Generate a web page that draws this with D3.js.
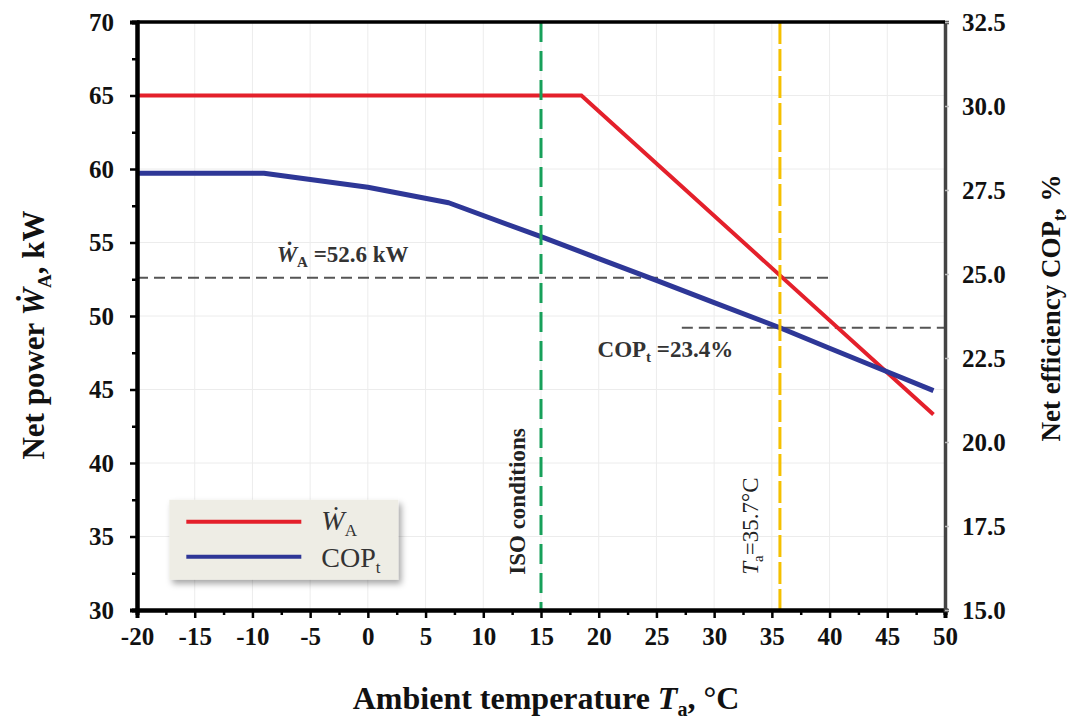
<!DOCTYPE html>
<html>
<head>
<meta charset="utf-8">
<script src="https://cdn.jsdelivr.net/npm/d3@7"></script>
<style>
    body { margin: 0; background: #fff; }
    text { font-family: "Liberation Serif", "Times New Roman", "DejaVu Serif", serif; }
</style>
</head>
<body>
<div id="chart"></div>
<script>
// data
const powerTemp = [-20, 18.5, 49]
const powerValues = [65, 65, 43.3]
const copTemp = [-20, -9, 0, 7, 15, 20, 25, 30, 35.7, 40, 45, 49]
const copValues = [28.0, 28.0, 27.58, 27.12, 26.11, 25.46, 24.81, 24.15, 23.4, 22.79, 22.09, 21.53]

const xTickValues = [-20, -15, -10, -5, 0, 5, 10, 15, 20, 25, 30, 35, 40, 45, 50]
const xMinorValues = [-17.5, -12.5, -7.5, -2.5, 2.5, 7.5, 12.5, 17.5, 22.5, 27.5, 32.5, 37.5, 42.5, 47.5]
const leftTickValues = [30, 35, 40, 45, 50, 55, 60, 65, 70]
const leftMinorValues = [32.5, 37.5, 42.5, 47.5, 52.5, 57.5, 62.5, 67.5]
const rightTickValues = [15, 17.5, 20, 22.5, 25, 27.5, 30, 32.5]

const isoTemp = 15
const designTemp = 35.7
const designPower = 52.6
const designCop = 23.4
const powerRefEnd = 40
const copRefStart = 27.2

const margin = { top: 22, right: 132, bottom: 110, left: 137 },
    width = 1077 - margin.left - margin.right,
    height = 720 - margin.top - margin.bottom;

const root = d3.select("#chart")
    .append("svg")
    .attr("width", 1077)
    .attr("height", 720)

const defs = root.append("defs")
const shadow = defs.append("filter").attr("id", "shadow")
    .attr("x", "-10%").attr("y", "-10%").attr("width", "130%").attr("height", "140%")
shadow.append("feDropShadow")
    .attr("dx", 3).attr("dy", 4).attr("stdDeviation", 3)
    .attr("flood-color", "#000").attr("flood-opacity", 0.35)

const svg = root.append("g")
    .attr("transform", `translate(${margin.left},${margin.top})`);

let x = d3.scaleLinear().domain([-20, 50]).range([0, width])
let yLeft = d3.scaleLinear().domain([30, 70]).range([height, 0])
let yRight = d3.scaleLinear().domain([15, 32.5]).range([height, 0])

// faint grid
svg.append("g")
    .selectAll("line")
    .data(xTickValues)
    .enter().append("line")
    .attr("x1", d => x(d)).attr("x2", d => x(d))
    .attr("y1", 0).attr("y2", height)
    .attr("stroke", "#ececec").attr("stroke-width", 1)
svg.append("g")
    .selectAll("line")
    .data(leftTickValues)
    .enter().append("line")
    .attr("x1", 0).attr("x2", width)
    .attr("y1", d => yLeft(d)).attr("y2", d => yLeft(d))
    .attr("stroke", "#ececec").attr("stroke-width", 1)

// reference dashed lines
svg.append("line")
    .attr("x1", x(-20)).attr("x2", x(powerRefEnd))
    .attr("y1", yLeft(designPower)).attr("y2", yLeft(designPower))
    .attr("stroke", "#555").attr("stroke-width", 2)
    .attr("stroke-dasharray", "11,6")
svg.append("line")
    .attr("x1", x(copRefStart)).attr("x2", x(50))
    .attr("y1", yRight(designCop)).attr("y2", yRight(designCop))
    .attr("stroke", "#555").attr("stroke-width", 2)
    .attr("stroke-dasharray", "11,6")

// data lines
svg.append("path")
    .datum(powerTemp.map((t, i) => [t, powerValues[i]]))
    .attr("fill", "none")
    .attr("stroke", "#e4202b")
    .attr("stroke-width", 4)
    .attr("d", d3.line()
        .x(d => x(d[0]))
        .y(d => yLeft(d[1]))
    )

svg.append("path")
    .datum(copTemp.map((t, i) => [t, copValues[i]]))
    .attr("fill", "none")
    .attr("stroke", "#2e3797")
    .attr("stroke-width", 5)
    .attr("stroke-linejoin", "round")
    .attr("d", d3.line()
        .x(d => x(d[0]))
        .y(d => yRight(d[1]))
    )

// vertical marker lines
svg.append("line")
    .attr("x1", x(isoTemp)).attr("x2", x(isoTemp))
    .attr("y1", 0).attr("y2", height)
    .attr("stroke", "#17a05a").attr("stroke-width", 3)
    .attr("stroke-dasharray", "20,9")
svg.append("line")
    .attr("x1", x(designTemp)).attr("x2", x(designTemp))
    .attr("y1", 0).attr("y2", height)
    .attr("stroke", "#f5c000").attr("stroke-width", 3)
    .attr("stroke-dasharray", "22,5")

// axes
function styleAxis(g, color, lineWidth) {
    g.select(".domain").attr("stroke", color).attr("stroke-width", lineWidth)
    g.selectAll(".tick line").attr("stroke", color).attr("stroke-width", 2.5)
    g.selectAll("text")
        .attr("font-size", "25px")
        .attr("font-weight", "bold")
        .attr("font-family", "Liberation Serif, Times New Roman, serif")
        .attr("fill", "#111")
}

let xMinor = svg.append("g")
    .attr("transform", "translate(0," + height + ")")
    .call(d3.axisBottom(x).tickValues(xMinorValues).tickSize(5).tickFormat(""))
styleAxis(xMinor, "#000", 4)

let xAxis = svg.append("g")
    .attr("transform", "translate(0," + height + ")")
    .call(d3.axisBottom(x).tickValues(xTickValues).tickSize(8).tickPadding(9).tickFormat(d3.format("d")))
styleAxis(xAxis, "#000", 4)
xAxis.selectAll("text").text(d => d < 0 ? "-" + Math.abs(d) : d)

let yMinor = svg.append("g")
    .call(d3.axisLeft(yLeft).tickValues(leftMinorValues).tickSize(5).tickFormat(""))
styleAxis(yMinor, "#000", 4)

let yAxis = svg.append("g")
    .call(d3.axisLeft(yLeft).tickValues(leftTickValues).tickSize(7).tickPadding(16))
styleAxis(yAxis, "#000", 4)

let yAxisRight = svg.append("g")
    .attr("transform", `translate(${width},0)`)
    .call(d3.axisRight(yRight).tickValues(rightTickValues).tickSize(4).tickPadding(13).tickFormat(d3.format(".1f")))
styleAxis(yAxisRight, "#444", 3.5)
yAxisRight.selectAll(".tick line").attr("stroke", "#bbb").attr("stroke-width", 1.5)

svg.append("line")
    .attr("x1", 0).attr("x2", width)
    .attr("y1", 0).attr("y2", 0)
    .attr("stroke", "#000").attr("stroke-width", 3.5)

// annotations
let wLabel = svg.append("text")
    .attr("x", x(-7.9)).attr("y", yLeft(53.7))
    .attr("font-size", "23px").attr("font-weight", "bold").attr("fill", "#333")
wLabel.append("tspan").attr("font-style", "italic").text("Ẇ")
wLabel.append("tspan").attr("font-size", "15px").attr("dy", 5).text("A")
wLabel.append("tspan").attr("dy", -5).text(" =52.6 kW")

let copLabel = svg.append("text")
    .attr("x", x(19.9)).attr("y", yLeft(47.2))
    .attr("font-size", "23px").attr("font-weight", "bold").attr("fill", "#333")
copLabel.append("tspan").text("COP")
copLabel.append("tspan").attr("font-size", "15px").attr("dy", 5).text("t")
copLabel.append("tspan").attr("dy", -5).text(" =23.4%")

svg.append("text")
    .attr("transform", `translate(${x(isoTemp) - 16},${yLeft(32.4)}) rotate(-90)`)
    .attr("font-size", "23px").attr("font-weight", "bold").attr("fill", "#222")
    .text("ISO conditions")

let taLabel = svg.append("text")
    .attr("transform", `translate(${x(designTemp) - 22},${yLeft(32.4)}) rotate(-90)`)
    .attr("font-size", "23px").attr("fill", "#222")
taLabel.append("tspan").attr("font-style", "italic").text("T")
taLabel.append("tspan").attr("font-size", "15px").attr("dy", 5).text("a")
taLabel.append("tspan").attr("dy", -5).text("=35.7°C")

// legend
let legend = svg.append("g").attr("transform", `translate(${x(-17.2)},${yLeft(37.5)})`)
legend.append("rect")
    .attr("width", 229).attr("height", 80)
    .attr("fill", "#eeede5")
    .attr("filter", "url(#shadow)")
legend.append("line")
    .attr("x1", 17).attr("x2", 132).attr("y1", 22).attr("y2", 22)
    .attr("stroke", "#e4202b").attr("stroke-width", 4)
legend.append("line")
    .attr("x1", 17).attr("x2", 132).attr("y1", 57).attr("y2", 57)
    .attr("stroke", "#2e3797").attr("stroke-width", 4)
let lg1 = legend.append("text").attr("x", 152).attr("y", 30).attr("font-size", "28px").attr("fill", "#333")
lg1.append("tspan").attr("font-style", "italic").text("Ẇ")
lg1.append("tspan").attr("font-size", "17px").attr("dy", 6).text("A")
let lg2 = legend.append("text").attr("x", 152).attr("y", 67).attr("font-size", "28px").attr("fill", "#333")
lg2.append("tspan").text("COP")
lg2.append("tspan").attr("font-size", "17px").attr("dy", 6).text("t")

// axis titles
let xTitle = root.append("text")
    .attr("x", 546).attr("y", 709)
    .attr("text-anchor", "middle")
    .attr("font-size", "32px").attr("font-weight", "bold").attr("fill", "#111")
xTitle.append("tspan").text("Ambient temperature ")
xTitle.append("tspan").attr("font-style", "italic").text("T")
xTitle.append("tspan").attr("font-size", "20px").attr("dy", 7).text("a")
xTitle.append("tspan").attr("dy", -7).text(", °C")

let yTitle = root.append("text")
    .attr("transform", "translate(44,335) rotate(-90)")
    .attr("text-anchor", "middle")
    .attr("font-size", "31px").attr("font-weight", "bold").attr("fill", "#111")
yTitle.append("tspan").text("Net power ")
yTitle.append("tspan").attr("font-style", "italic").text("Ẇ")
yTitle.append("tspan").attr("font-size", "19px").attr("dy", 7).text("A")
yTitle.append("tspan").attr("dy", -7).text(", kW")

let yTitleRight = root.append("text")
    .attr("transform", "translate(1060,308) rotate(-90)")
    .attr("text-anchor", "middle")
    .attr("font-size", "27px").attr("font-weight", "bold").attr("fill", "#111")
yTitleRight.append("tspan").text("Net efficiency COP")
yTitleRight.append("tspan").attr("font-size", "18px").attr("dy", 6).text("t")
yTitleRight.append("tspan").attr("dy", -6).text(", %")
</script>
</body>
</html>
